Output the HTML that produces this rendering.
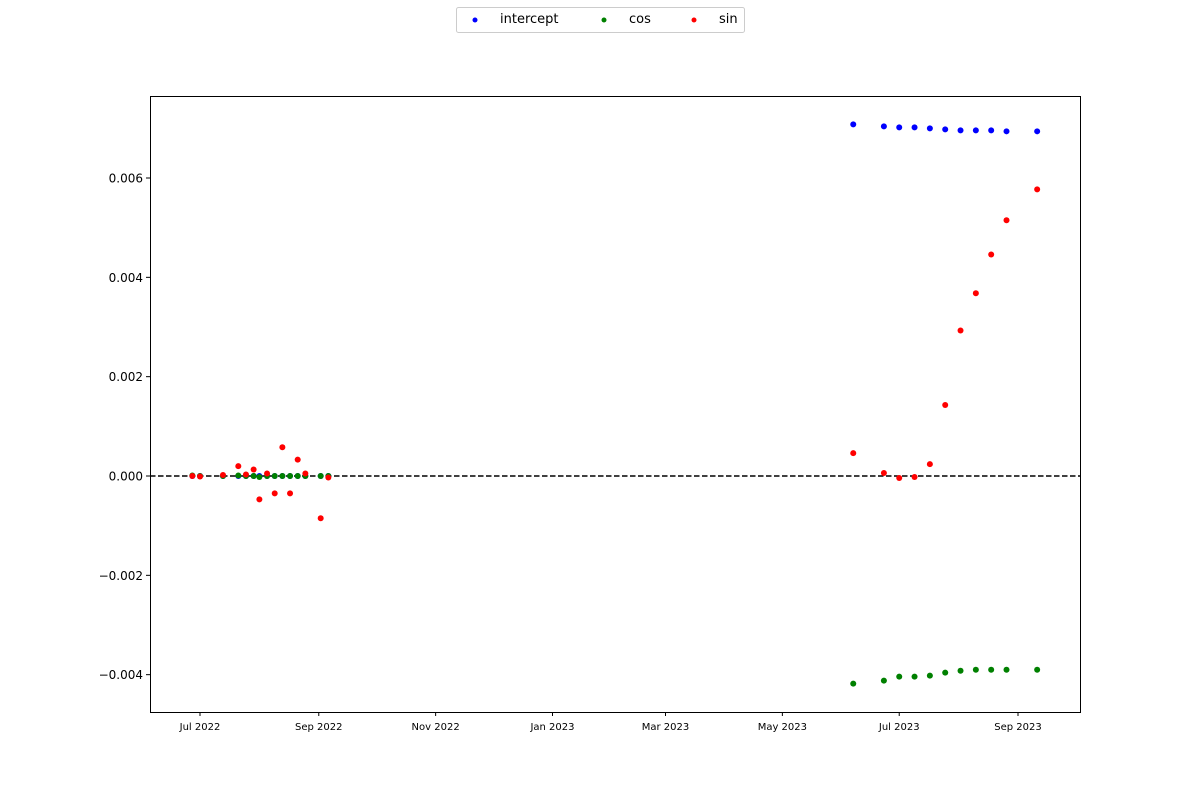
<!DOCTYPE html>
<html><head><meta charset="utf-8"><style>
body{margin:0;background:#fff;}
svg{font-family:"DejaVu Sans","Liberation Sans",sans-serif;}
</style></head><body>
<svg id="chart" width="1200" height="800" xmlns="http://www.w3.org/2000/svg">
<rect x="0" y="0" width="1200" height="800" fill="#fff"/>
<g id="marks"></g>
<rect x="150.5" y="96.5" width="930" height="616" fill="none" stroke="#000" stroke-width="1"/>
<g id="ticks"></g>
<g>
<rect x="456.5" y="7.5" width="288" height="25" rx="2" fill="#fff" stroke="#ccc"/>
<circle cx="475" cy="20" r="2.5" fill="blue"/>
<text x="500" y="23" font-size="13">intercept</text>
<circle cx="604" cy="20" r="2.5" fill="green"/>
<text x="629" y="23" font-size="13">cos</text>
<circle cx="694" cy="20" r="2.5" fill="red"/>
<text x="719" y="23" font-size="13">sin</text>
</g>
</svg>
<script>
const dates = ["2022-06-27","2022-07-01","2022-07-13","2022-07-21","2022-07-25","2022-07-29","2022-08-01","2022-08-05","2022-08-09","2022-08-13","2022-08-17","2022-08-21","2022-08-25","2022-09-02","2022-09-06",
"2023-06-07","2023-06-23","2023-07-01","2023-07-09","2023-07-17","2023-07-25","2023-08-02","2023-08-10","2023-08-18","2023-08-26","2023-09-11"];
const interceptVals = [0,0,0,0,0,0,0,0,0,0,0,0,0,0,0,
0.00708,0.00704,0.00702,0.00702,0.00700,0.00698,0.00696,0.00696,0.00696,0.00694,0.00694];
const cosVals = [0.00001,0,0,0.00001,0,0,-0.00002,0,0,0,0,0,0,0,0,
-0.00418,-0.00412,-0.00404,-0.00404,-0.00402,-0.00396,-0.00392,-0.00390,-0.00390,-0.00390,-0.00390];
const sinVals = [0,-0.00001,0.00002,0.0002,0.00003,0.00013,-0.00047,0.00005,-0.00035,0.00058,-0.00035,0.00033,0.00005,-0.00085,-0.00003,
0.00046,0.00006,-0.00004,-0.00002,0.00024,0.00143,0.00293,0.00368,0.00446,0.00515,0.00577];
const xTickLabels = ["Jul 2022","Sep 2022","Nov 2022","Jan 2023","Mar 2023","May 2023","Jul 2023","Sep 2023"];
const xTickDates = ["2022-07-01","2022-09-01","2022-11-01","2023-01-01","2023-03-01","2023-05-01","2023-07-01","2023-09-01"];
const yTicks = [-0.004,-0.002,0,0.002,0.004,0.006];
const yTickLabels = ["\u22120.004","\u22120.002","0.000","0.002","0.004","0.006"];

const NS="http://www.w3.org/2000/svg";
const t0=Date.parse("2022-07-01"), t1=Date.parse("2023-09-01");
function xs(d){return 200+(Date.parse(d)-t0)/(t1-t0)*818;}
function ys(v){return 476-v/0.006*298;}
function mk(tag,attrs,parent){const e=document.createElementNS(NS,tag);for(const k in attrs)e.setAttribute(k,attrs[k]);parent.appendChild(e);return e;}
const marks=document.getElementById('marks'), ticks=document.getElementById('ticks');
const zl=mk('line',{x1:150,x2:1080,y1:ys(0),y2:ys(0),stroke:'#000','stroke-width':1.5,'stroke-dasharray':'5.5,2.5'},marks);


const series=[['intercept',interceptVals,'blue'],['cos',cosVals,'green'],['sin',sinVals,'red']];
series.forEach(([name,vals,col])=>{
  vals.forEach((v,i)=>{
    const c=mk('circle',{cx:xs(dates[i]),cy:ys(v),r:3,fill:col},marks);
    
    
  });
});
xTickDates.forEach((d,i)=>{
  const x=xs(d);
  mk('line',{x1:x,x2:x,y1:712,y2:716,stroke:'#000'},ticks);
  const t=mk('text',{x:x,y:730,'font-size':10,'text-anchor':'middle'},ticks);
  t.textContent=xTickLabels[i];
  
  
});
yTicks.forEach((v,i)=>{
  const y=ys(v);
  mk('line',{x1:146,x2:150,y1:y,y2:y,stroke:'#000'},ticks);
  const t=mk('text',{x:143,y:y+4.5,'font-size':12,'text-anchor':'end'},ticks);
  t.textContent=yTickLabels[i];
  
  
});
</script>
</body></html>
